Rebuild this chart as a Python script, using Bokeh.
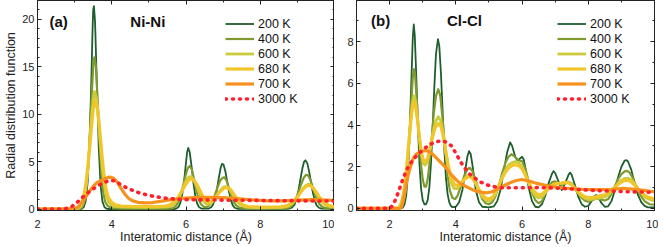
from bokeh.plotting import figure
from bokeh.models import (Legend, LegendItem, Label, LinearAxis, SingleIntervalTicker, Range1d,
                          CustomLabelingPolicy)
from bokeh.layouts import row
from bokeh.embed import file_html
from bokeh.resources import INLINE

# ---------------- data ----------------
temps = ["200 K", "400 K", "600 K", "680 K", "700 K", "3000 K"]
colors = ["#1d5e2c", "#7e9a2f", "#cbcb3c", "#f1c62a", "#f7921f", "#ff1f2d"]
widths = [1.8, 2.2, 2.8, 3.2, 3.2, 3.6]

# Ni-Ni  (x in Angstrom, g(r))
ni_200 = [(2.0,0),(3.15,0),(3.2,0.05),(3.25,0.25),(3.3,0.9),(3.35,2.8),(3.4,6.8),(3.45,13.5),(3.48,18.5),(3.5,21.0),(3.52,21.4),(3.55,19.8),(3.6,13.0),(3.65,6.5),(3.7,2.5),(3.75,0.8),(3.8,0.25),(3.85,0.07),(3.9,0.02),
          (5.7,0.02),(5.75,0.08),(5.8,0.25),(5.85,0.7),(5.9,1.6),(5.95,3.0),(6.0,4.9),(6.03,6.0),(6.06,6.45),(6.1,6.0),(6.15,4.5),(6.2,2.8),(6.25,1.4),(6.3,0.6),(6.35,0.22),(6.42,0.05),(6.6,0.05),
          (6.68,0.2),(6.73,0.5),(6.78,1.1),(6.83,2.0),(6.88,3.2),(6.93,4.3),(6.97,4.78),(7.01,4.7),(7.06,4.0),(7.11,2.9),(7.16,1.8),(7.21,0.95),(7.26,0.4),(7.31,0.15),(7.4,0.03),
          (8.75,0.03),(8.85,0.15),(8.92,0.45),(8.98,1.1),(9.03,2.0),(9.08,3.1),(9.13,4.2),(9.18,5.0),(9.22,5.15),(9.27,4.8),(9.32,3.9),(9.37,2.8),(9.42,1.7),(9.47,0.9),(9.52,0.4),(9.58,0.15),(9.65,0.05),(10.0,0.03)]
ni_400 = [(2.0,0),(3.1,0),(3.15,0.05),(3.2,0.2),(3.25,0.6),(3.3,1.6),(3.35,3.6),(3.4,7.0),(3.45,11.3),(3.5,15.0),(3.53,16.0),(3.57,15.2),(3.62,11.5),(3.67,7.2),(3.72,3.8),(3.77,1.8),(3.82,0.8),(3.9,0.3),(4.0,0.12),(4.3,0.06),
          (5.5,0.06),(5.65,0.12),(5.72,0.3),(5.8,0.8),(5.87,1.6),(5.93,2.6),(6.0,3.7),(6.05,4.35),(6.1,4.55),(6.16,4.15),(6.22,3.1),(6.28,2.0),(6.34,1.1),(6.4,0.55),(6.48,0.25),(6.56,0.22),
          (6.63,0.4),(6.7,0.8),(6.78,1.5),(6.85,2.3),(6.92,3.0),(6.98,3.3),(7.04,3.35),(7.1,2.95),(7.16,2.2),(7.22,1.4),(7.28,0.8),(7.35,0.4),(7.43,0.18),(7.6,0.08),
          (8.7,0.08),(8.8,0.2),(8.88,0.5),(8.95,1.0),(9.02,1.7),(9.1,2.6),(9.17,3.3),(9.23,3.62),(9.28,3.6),(9.34,3.2),(9.4,2.5),(9.46,1.7),(9.53,1.0),(9.6,0.5),(9.68,0.22),(9.78,0.1),(10.0,0.06)]
ni_600 = [(2.0,0),(3.0,0),(3.08,0.05),(3.15,0.2),(3.2,0.5),(3.25,1.1),(3.3,2.2),(3.35,4.0),(3.4,6.6),(3.45,9.4),(3.5,11.6),(3.54,12.4),(3.59,11.7),(3.64,9.7),(3.69,7.0),(3.74,4.6),(3.79,2.8),(3.84,1.6),(3.9,0.9),(3.97,0.5),(4.05,0.32),(4.2,0.24),(4.6,0.2),
          (5.2,0.2),(5.5,0.25),(5.6,0.35),(5.68,0.55),(5.75,0.9),(5.82,1.4),(5.9,2.1),(5.97,2.75),(6.03,3.2),(6.09,3.42),(6.15,3.4),(6.21,3.05),(6.29,2.4),(6.37,1.6),(6.44,1.0),(6.51,0.65),(6.58,0.5),
          (6.65,0.55),(6.72,0.8),(6.79,1.2),(6.87,1.7),(6.95,2.1),(7.02,2.35),(7.09,2.38),(7.16,2.15),(7.24,1.7),(7.32,1.15),(7.41,0.65),(7.51,0.35),(7.65,0.2),(8.0,0.15),
          (8.6,0.18),(8.75,0.3),(8.85,0.55),(8.95,0.95),(9.05,1.55),(9.13,2.05),(9.21,2.45),(9.28,2.62),(9.34,2.6),(9.41,2.3),(9.49,1.8),(9.57,1.25),(9.65,0.8),(9.75,0.45),(9.87,0.28),(10.0,0.22)]
ni_680 = [(2.0,0),(2.95,0),(3.03,0.05),(3.1,0.18),(3.15,0.4),(3.2,0.8),(3.25,1.5),(3.3,2.6),(3.35,4.2),(3.4,6.2),(3.45,8.5),(3.5,10.5),(3.55,11.5),(3.6,11.0),(3.65,9.4),(3.7,7.3),(3.75,5.1),(3.8,3.3),(3.85,2.0),(3.91,1.2),(4.0,0.7),(4.1,0.45),(4.25,0.33),(4.6,0.28),
          (5.2,0.28),(5.45,0.32),(5.57,0.45),(5.66,0.7),(5.75,1.05),(5.83,1.5),(5.91,2.05),(5.99,2.6),(6.06,3.0),(6.12,3.2),(6.19,3.12),(6.26,2.8),(6.34,2.25),(6.42,1.6),(6.49,1.1),(6.56,0.8),(6.63,0.72),
          (6.7,0.85),(6.78,1.2),(6.86,1.6),(6.94,1.95),(7.02,2.2),(7.1,2.3),(7.18,2.15),(7.26,1.75),(7.34,1.25),(7.43,0.8),(7.53,0.45),(7.67,0.28),(8.0,0.22),
          (8.55,0.24),(8.7,0.35),(8.82,0.58),(8.93,0.95),(9.03,1.45),(9.12,1.95),(9.2,2.3),(9.28,2.5),(9.35,2.48),(9.42,2.25),(9.5,1.85),(9.58,1.35),(9.67,0.9),(9.77,0.55),(9.88,0.36),(10.0,0.28)]
ni_700 = [(2.0,0),(2.8,0),(3.0,0.05),(3.1,0.25),(3.2,0.7),(3.3,1.3),(3.4,1.9),(3.5,2.4),(3.6,2.8),(3.7,3.0),(3.8,3.2),(3.9,3.35),(3.97,3.37),(4.05,3.25),(4.15,2.85),(4.25,2.2),(4.35,1.6),(4.45,1.15),(4.55,0.9),(4.7,0.72),
          (4.9,0.66),(5.1,0.7),(5.35,0.85),(5.6,1.0),(5.9,1.15),(6.2,1.22),(6.6,1.25),(7.0,1.22),(7.4,1.12),(7.8,0.97),(8.2,0.88),(8.6,0.88),(9.0,0.95),(9.4,1.0),(9.8,0.95),(10.0,0.92)]
ni_3000 = [(2.0,0),(2.6,0),(2.75,0.05),(2.85,0.15),(2.95,0.35),(3.05,0.65),(3.17,1.1),(3.3,1.55),(3.45,2.0),(3.6,2.4),(3.72,2.65),(3.85,2.9),(3.97,3.05),(4.08,2.98),(4.22,2.65),(4.38,2.3),(4.52,2.05),(4.68,1.8),(4.8,1.65),
           (5.0,1.45),(5.2,1.3),(5.4,1.18),(5.6,1.1),(5.9,1.02),(6.3,0.98),(7.0,0.95),(8.0,0.92),(9.0,0.88),(10.0,0.85)]

# Cl-Cl
cl_200 = [(1.0,0),(2.35,0),(2.4,0.05),(2.45,0.2),(2.5,0.6),(2.55,1.6),(2.6,3.4),(2.65,5.8),(2.7,8.2),(2.73,8.83),(2.76,8.3),(2.8,6.6),(2.85,4.2),(2.9,2.2),(2.95,0.95),(3.0,0.4),(3.05,0.2),(3.1,0.2),
          (3.15,0.4),(3.2,1.0),(3.25,2.2),(3.3,3.9),(3.35,5.8),(3.4,7.4),(3.46,8.12),(3.5,7.8),(3.55,6.5),(3.6,4.7),(3.65,2.9),(3.7,1.5),(3.75,0.7),(3.8,0.3),(3.85,0.12),(3.9,0.06),
          (4.0,0.08),(4.1,0.3),(4.2,0.9),(4.25,1.4),(4.3,2.0),(4.35,2.5),(4.4,2.75),(4.45,2.6),(4.5,2.1),(4.55,1.5),(4.6,0.9),(4.7,0.3),(4.8,0.08),(5.0,0.05),
          (5.15,0.1),(5.25,0.35),(5.35,0.9),(5.45,1.8),(5.55,2.7),(5.64,3.17),(5.7,3.0),(5.8,2.45),(5.86,2.3),(5.93,2.38),(6.0,2.48),(6.05,2.35),(6.1,1.95),(6.2,1.0),(6.3,0.35),(6.4,0.08),(6.5,0.05),
          (6.6,0.2),(6.7,0.6),(6.8,1.2),(6.9,1.65),(6.95,1.79),(7.0,1.7),(7.1,1.3),(7.2,0.88),(7.3,1.2),(7.4,1.6),(7.45,1.72),(7.5,1.6),(7.6,1.1),(7.7,0.55),(7.8,0.2),(7.9,0.08),
          (8.0,0.12),(8.1,0.35),(8.2,0.6),(8.25,0.64),(8.3,0.55),(8.4,0.25),(8.5,0.08),(8.6,0.1),(8.7,0.35),(8.8,0.85),(8.9,1.5),(9.0,2.0),(9.1,2.3),(9.15,2.32),(9.2,2.25),(9.3,1.85),
          (9.4,1.2),(9.5,0.65),(9.6,0.3),(9.7,0.12),(9.8,0.05),(10.0,0.05)]
cl_400 = [(1.0,0),(2.3,0),(2.35,0.05),(2.4,0.2),(2.45,0.5),(2.5,1.1),(2.55,2.1),(2.6,3.5),(2.65,5.0),(2.7,6.3),(2.73,6.69),(2.77,6.4),(2.82,5.2),(2.88,3.6),(2.95,2.1),(3.0,1.4),(3.05,1.05),(3.1,1.05),
          (3.15,1.4),(3.2,2.1),(3.27,3.3),(3.33,4.5),(3.4,5.4),(3.47,5.72),(3.53,5.4),(3.6,4.3),(3.67,2.9),(3.75,1.6),(3.82,0.85),(3.9,0.5),(3.98,0.45),(4.05,0.6),(4.15,1.05),(4.25,1.55),
          (4.35,1.88),(4.42,1.95),(4.5,1.8),(4.6,1.35),(4.7,0.85),(4.8,0.45),(4.9,0.25),(5.0,0.2),(5.1,0.3),(5.2,0.6),(5.3,1.1),(5.4,1.7),(5.5,2.2),(5.6,2.5),(5.69,2.6),(5.8,2.45),
          (5.9,2.3),(6.0,2.27),(6.1,1.9),(6.2,1.3),(6.3,0.75),(6.4,0.4),(6.5,0.25),(6.6,0.35),(6.7,0.7),(6.8,1.05),(6.9,1.25),(7.0,1.3),(7.1,1.2),(7.2,1.12),(7.3,1.2),(7.4,1.28),
          (7.5,1.2),(7.6,0.95),(7.7,0.7),(7.8,0.5),(7.9,0.37),(8.0,0.32),(8.1,0.38),(8.25,0.48),(8.4,0.42),(8.5,0.38),(8.6,0.45),(8.7,0.7),(8.8,1.05),(8.9,1.4),(9.0,1.65),(9.1,1.78),
          (9.17,1.8),(9.25,1.72),(9.35,1.45),(9.45,1.05),(9.55,0.7),(9.7,0.35),(9.85,0.2),(10.0,0.18)]
cl_600 = [(1.0,0),(2.25,0),(2.3,0.05),(2.35,0.2),(2.4,0.45),(2.45,0.9),(2.5,1.6),(2.55,2.5),(2.6,3.5),(2.65,4.5),(2.7,5.2),(2.74,5.4),(2.78,5.2),(2.84,4.4),(2.9,3.4),(2.96,2.6),(3.02,2.15),(3.08,2.08),
          (3.15,2.3),(3.22,2.85),(3.3,3.6),(3.38,4.15),(3.47,4.4),(3.55,4.2),(3.62,3.6),(3.7,2.7),(3.78,1.85),(3.86,1.25),(3.95,0.95),(4.05,0.95),(4.15,1.15),(4.25,1.4),(4.35,1.58),
          (4.43,1.6),(4.5,1.5),(4.6,1.2),(4.7,0.85),(4.8,0.55),(4.9,0.4),(5.0,0.35),(5.1,0.45),(5.2,0.7),(5.3,1.1),(5.4,1.5),(5.5,1.85),(5.6,2.1),(5.7,2.2),(5.8,2.25),(5.9,2.2),
          (6.0,2.0),(6.1,1.65),(6.2,1.2),(6.3,0.85),(6.4,0.6),(6.5,0.5),(6.6,0.55),(6.7,0.75),(6.8,0.95),(6.9,1.1),(7.0,1.18),(7.1,1.2),(7.2,1.2),(7.3,1.24),(7.4,1.25),(7.5,1.15),
          (7.6,0.95),(7.7,0.75),(7.8,0.58),(7.9,0.48),(8.0,0.44),(8.1,0.44),(8.2,0.47),(8.35,0.5),(8.5,0.55),(8.6,0.65),(8.7,0.8),(8.8,1.0),(8.9,1.2),(9.0,1.35),(9.1,1.43),(9.2,1.45),
          (9.3,1.38),(9.4,1.2),(9.5,0.95),(9.6,0.75),(9.75,0.5),(9.9,0.4),(10.0,0.38)]
cl_680 = [(1.0,0),(2.25,0),(2.3,0.08),(2.35,0.25),(2.4,0.55),(2.45,1.0),(2.5,1.7),(2.55,2.6),(2.6,3.5),(2.65,4.35),(2.7,4.95),(2.74,5.12),(2.78,4.95),(2.84,4.25),(2.9,3.4),(2.96,2.7),(3.02,2.3),
          (3.08,2.25),(3.15,2.4),(3.22,2.85),(3.3,3.45),(3.38,3.9),(3.48,4.08),(3.56,3.9),(3.63,3.4),(3.7,2.7),(3.78,2.0),(3.86,1.45),(3.95,1.15),(4.05,1.1),(4.15,1.2),(4.25,1.38),
          (4.35,1.5),(4.43,1.52),(4.5,1.45),(4.6,1.2),(4.7,0.9),(4.8,0.65),(4.9,0.5),(5.0,0.45),(5.1,0.52),(5.2,0.75),(5.3,1.1),(5.4,1.45),(5.5,1.75),(5.6,1.95),(5.7,2.05),(5.8,2.1),
          (5.9,2.05),(6.0,1.9),(6.1,1.6),(6.2,1.25),(6.3,0.95),(6.4,0.75),(6.5,0.65),(6.6,0.68),(6.7,0.82),(6.8,0.98),(6.9,1.1),(7.0,1.17),(7.1,1.2),(7.2,1.22),(7.3,1.25),(7.4,1.23),
          (7.5,1.13),(7.6,0.97),(7.7,0.8),(7.8,0.65),(7.9,0.56),(8.0,0.52),(8.1,0.52),(8.2,0.55),(8.35,0.6),(8.5,0.65),(8.6,0.72),(8.7,0.85),(8.8,1.0),(8.9,1.15),(9.0,1.27),(9.1,1.34),
          (9.2,1.35),(9.3,1.28),(9.4,1.12),(9.5,0.92),(9.6,0.75),(9.75,0.58),(9.9,0.5),(10.0,0.48)]
cl_700 = [(1.0,0),(2.3,0),(2.35,0.05),(2.4,0.3),(2.45,0.7),(2.5,1.15),(2.56,1.6),(2.65,2.1),(2.71,2.4),(2.8,2.6),(2.9,2.7),(3.0,2.75),(3.1,2.78),(3.2,2.72),(3.3,2.6),(3.41,2.43),(3.55,2.2),
          (3.72,1.92),(3.85,1.65),(4.02,1.36),(4.15,1.18),(4.32,1.04),(4.5,0.9),(4.63,0.83),(4.8,0.77),(4.93,0.75),(5.1,0.8),(5.23,0.9),(5.4,1.05),(5.64,1.23),(5.8,1.33),(5.99,1.39),
          (6.2,1.32),(6.45,1.2),(6.8,1.07),(7.25,0.98),(7.8,0.92),(8.26,0.9),(8.7,0.92),(9.06,0.96),(9.5,0.9),(10.0,0.8)]
cl_3000 = [(1.0,0),(2.0,0),(2.1,0.15),(2.2,0.5),(2.3,0.95),(2.4,1.4),(2.5,1.8),(2.6,2.1),(2.76,2.43),(2.96,2.75),(3.18,3.04),(3.4,3.2),(3.6,3.25),(3.75,3.15),(3.87,3.0),(4.0,2.65),(4.14,2.24),
           (4.28,1.92),(4.42,1.65),(4.6,1.42),(4.73,1.28),(4.9,1.15),(5.03,1.09),(5.2,1.03),(5.43,0.99),(6.0,0.99),(6.5,1.0),(7.0,0.98),(7.5,0.93),(8.0,0.88),(8.5,0.84),(9.0,0.81),
           (9.5,0.79),(10.0,0.77)]

ni_series = [ni_200, ni_400, ni_600, ni_680, ni_700, ni_3000]
cl_series = [cl_200, cl_400, cl_600, cl_680, cl_700, cl_3000]

FONT = "Liberation Sans"


def make_panel(series, xr, yr, yint, ynminor, tag, title, tag_xy, title_xy,
               left_border, right_border, frame_w, ylabel):
    p = figure(output_backend="svg", toolbar_location=None,
               frame_width=frame_w, frame_height=210,
               min_border_left=left_border, min_border_right=right_border,
               min_border_top=0, min_border_bottom=33,
               x_range=Range1d(*xr), y_range=Range1d(*yr),
               x_axis_type=None, y_axis_type=None)
    p.background_fill_color = "white"
    p.border_fill_color = "white"
    p.outline_line_color = "#222222"
    p.outline_line_width = 1
    p.xgrid.visible = False
    p.ygrid.visible = False

    def style(ax, labels=True):
        ax.axis_line_color = "#222222"
        ax.major_tick_line_color = "#222222"
        ax.minor_tick_line_color = "#222222"
        ax.major_tick_in = 4
        ax.major_tick_out = 0
        ax.minor_tick_in = 2
        ax.minor_tick_out = 0
        if labels:
            ax.major_label_text_font = FONT
            ax.major_label_text_font_size = "11px"
            ax.major_label_text_color = "#222222"
            ax.major_label_standoff = 9
            ax.axis_label_text_font = FONT
            ax.axis_label_text_font_size = "12.5px"
            ax.axis_label_text_font_style = "normal"
            ax.axis_label_text_color = "#222222"
        else:
            ax.major_label_policy = CustomLabelingPolicy(code="return []")
            ax.major_label_text_font_size = "0px"
            ax.major_label_standoff = 0
            ax.axis_label = None

    xt = dict(interval=2, num_minor_ticks=2)
    yt = dict(interval=yint, num_minor_ticks=ynminor)

    xb = LinearAxis(ticker=SingleIntervalTicker(**xt), axis_label="Interatomic distance (Å)")
    style(xb)
    xb.axis_label_standoff = -1
    p.add_layout(xb, "below")
    yl = LinearAxis(ticker=SingleIntervalTicker(**yt), axis_label=ylabel)
    style(yl)
    yl.major_label_standoff = 3
    yl.axis_label_standoff = 1
    p.add_layout(yl, "left")
    xa = LinearAxis(ticker=SingleIntervalTicker(**xt))
    style(xa, labels=False)
    p.add_layout(xa, "above")
    yr_ax = LinearAxis(ticker=SingleIntervalTicker(**yt))
    style(yr_ax, labels=False)
    p.add_layout(yr_ax, "right")

    items = []
    for i, (pts, lab) in enumerate(zip(series, temps)):
        xs = [a for a, b in pts]
        ys = [b for a, b in pts]
        if i == 5:
            r = p.line(xs, ys, line_color=colors[i], line_width=widths[i],
                       line_dash="1 6", line_cap="round")
        else:
            r = p.line(xs, ys, line_color=colors[i], line_width=widths[i],
                       line_join="round")
        items.append(LegendItem(label=lab, renderers=[r]))

    legend = Legend(items=items, location=(0, 0))
    legend.label_text_font = FONT
    legend.label_text_font_size = "12.5px"
    legend.label_text_color = "#111111"
    legend.glyph_width = 29
    legend.glyph_height = 15
    legend.label_height = 15
    legend.label_standoff = 4
    legend.spacing = 0
    legend.padding = 0
    legend.margin = 0
    legend.border_line_alpha = 0
    legend.background_fill_alpha = 0
    p.add_layout(legend)

    p.add_layout(Label(x=tag_xy[0], y=tag_xy[1], text=tag, text_font=FONT,
                       text_font_size="15px", text_font_style="bold",
                       text_baseline="middle", text_color="#111111"))
    p.add_layout(Label(x=title_xy[0], y=title_xy[1], text=title, text_font=FONT,
                       text_font_size="15px", text_font_style="bold",
                       text_baseline="middle", text_color="#111111"))
    return p, legend


pa, la = make_panel(ni_series, (2, 10), (-0.14, 22.0), 5, 5, "(a)", "Ni-Ni",
                    (2.32, 19.8), (4.5, 19.8), 37, 0, 297,
                    "Radial distribution function")
la.location = (188, 104)
pb, lb = make_panel(cl_series, (1, 10), (-0.1, 9.98), 2, 2, "(b)", "Cl-Cl",
                    (1.44, 9.0), (3.73, 9.0), 22, 4, 298, None)
lb.location = (201, 104)

layout = row(pa, pb)
html = file_html(layout, INLINE)
html = html.replace("<head>", "<head><style>html,body{margin:0;padding:0;}</style>", 1)
open("out.html", "w").write(html)
